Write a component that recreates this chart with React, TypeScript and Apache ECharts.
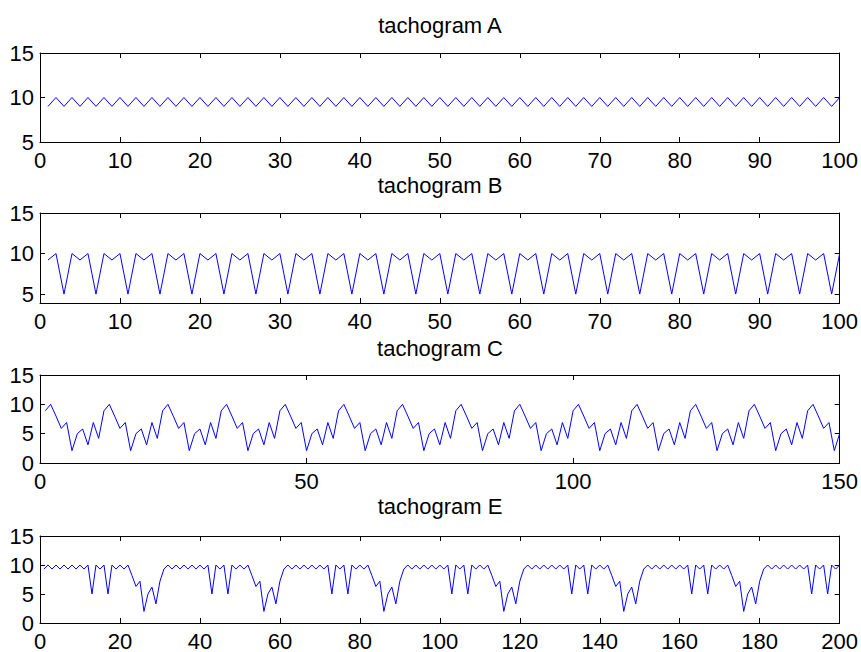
import React, { useEffect, useRef } from "react";
import * as echarts from "echarts";

const titles = ["tachogram A", "tachogram B", "tachogram C", "tachogram E"];
const xMaxes = [100, 100, 150, 200];
const xSteps = [10, 10, 50, 20];
const yMins = [5, 3.9, 0, 0];
const yMaxes = [15, 15, 15, 15];
const yTickValues = [
  [5, 10, 15],
  [5, 10, 15],
  [0, 5, 10, 15],
  [0, 5, 10, 15],
];

const tachoA = [
  9, 10, 9, 10, 9, 10, 9, 10, 9, 10,
  9, 10, 9, 10, 9, 10, 9, 10, 9, 10,
  9, 10, 9, 10, 9, 10, 9, 10, 9, 10,
  9, 10, 9, 10, 9, 10, 9, 10, 9, 10,
  9, 10, 9, 10, 9, 10, 9, 10, 9, 10,
  9, 10, 9, 10, 9, 10, 9, 10, 9, 10,
  9, 10, 9, 10, 9, 10, 9, 10, 9, 10,
  9, 10, 9, 10, 9, 10, 9, 10, 9, 10,
  9, 10, 9, 10, 9, 10, 9, 10, 9, 10,
  9, 10, 9, 10, 9, 10, 9, 10, 9, 10,
];

const tachoB = [
  9.2, 10, 5, 10, 9.2, 10, 5, 10, 9.2, 10, 5, 10, 9.2, 10, 5, 10, 9.2, 10, 5, 10,
  9.2, 10, 5, 10, 9.2, 10, 5, 10, 9.2, 10, 5, 10, 9.2, 10, 5, 10, 9.2, 10, 5, 10,
  9.2, 10, 5, 10, 9.2, 10, 5, 10, 9.2, 10, 5, 10, 9.2, 10, 5, 10, 9.2, 10, 5, 10,
  9.2, 10, 5, 10, 9.2, 10, 5, 10, 9.2, 10, 5, 10, 9.2, 10, 5, 10, 9.2, 10, 5, 10,
  9.2, 10, 5, 10, 9.2, 10, 5, 10, 9.2, 10, 5, 10, 9.2, 10, 5, 10, 9.2, 10, 5, 10,
];

const tachoC = [
  8.9, 10, 8, 5.9, 6.9, 2.1, 5, 5.8, 3.1, 6.9, 4.2,
  8.9, 10, 8, 5.9, 6.9, 2.1, 5, 5.8, 3.1, 6.9, 4.2,
  8.9, 10, 8, 5.9, 6.9, 2.1, 5, 5.8, 3.1, 6.9, 4.2,
  8.9, 10, 8, 5.9, 6.9, 2.1, 5, 5.8, 3.1, 6.9, 4.2,
  8.9, 10, 8, 5.9, 6.9, 2.1, 5, 5.8, 3.1, 6.9, 4.2,
  8.9, 10, 8, 5.9, 6.9, 2.1, 5, 5.8, 3.1, 6.9, 4.2,
  8.9, 10, 8, 5.9, 6.9, 2.1, 5, 5.8, 3.1, 6.9, 4.2,
  8.9, 10, 8, 5.9, 6.9, 2.1, 5, 5.8, 3.1, 6.9, 4.2,
  8.9, 10, 8, 5.9, 6.9, 2.1, 5, 5.8, 3.1, 6.9, 4.2,
  8.9, 10, 8, 5.9, 6.9, 2.1, 5, 5.8, 3.1, 6.9, 4.2,
  8.9, 10, 8, 5.9, 6.9, 2.1, 5, 5.8, 3.1, 6.9, 4.2,
  8.9, 10, 8, 5.9, 6.9, 2.1, 5, 5.8, 3.1, 6.9, 4.2,
  8.9, 10, 8, 5.9, 6.9, 2.1, 5, 5.8, 3.1, 6.9, 4.2,
  8.9, 10, 8, 5.9, 6.9, 2.1, 5,
];

const tachoE = [
  9.3, 10, 9.3, 10, 9.3, 10, 9.3, 10, 9.3, 10, 9.3, 10, 5, 10, 9.3, 10, 5, 10, 9.3, 10, 9.3, 10, 8.2, 6.3, 7.2, 2, 5, 6.2, 3.3, 7.2,
  9.3, 10, 9.3, 10, 9.3, 10, 9.3, 10, 9.3, 10, 9.3, 10, 5, 10, 9.3, 10, 5, 10, 9.3, 10, 9.3, 10, 8.2, 6.3, 7.2, 2, 5, 6.2, 3.3, 7.2,
  9.3, 10, 9.3, 10, 9.3, 10, 9.3, 10, 9.3, 10, 9.3, 10, 5, 10, 9.3, 10, 5, 10, 9.3, 10, 9.3, 10, 8.2, 6.3, 7.2, 2, 5, 6.2, 3.3, 7.2,
  9.3, 10, 9.3, 10, 9.3, 10, 9.3, 10, 9.3, 10, 9.3, 10, 5, 10, 9.3, 10, 5, 10, 9.3, 10, 9.3, 10, 8.2, 6.3, 7.2, 2, 5, 6.2, 3.3, 7.2,
  9.3, 10, 9.3, 10, 9.3, 10, 9.3, 10, 9.3, 10, 9.3, 10, 5, 10, 9.3, 10, 5, 10, 9.3, 10, 9.3, 10, 8.2, 6.3, 7.2, 2, 5, 6.2, 3.3, 7.2,
  9.3, 10, 9.3, 10, 9.3, 10, 9.3, 10, 9.3, 10, 9.3, 10, 5, 10, 9.3, 10, 5, 10, 9.3, 10, 9.3, 10, 8.2, 6.3, 7.2, 2, 5, 6.2, 3.3, 7.2,
  9.3, 10, 9.3, 10, 9.3, 10, 9.3, 10, 9.3, 10, 9.3, 10, 5, 10, 9.3, 10, 5, 10, 9.3, 10,
];

const seriesValues = [tachoA, tachoB, tachoC, tachoE];

const gridTops = [53, 213, 375, 536];
const gridHeights = [89, 90, 88, 90];
const titleMidY = [25.5, 185.5, 348, 506.5];

const FONT = "'Liberation Sans', Arial, sans-serif";
const FS = 22;

export default function App() {
  const ref = useRef<HTMLDivElement>(null);

  useEffect(() => {
    document.body.style.margin = "0";
    if (!ref.current) return;
    const chart = echarts.init(ref.current, null, { renderer: "svg" });

    const grid = gridTops.map((top, i) => ({
      left: 40,
      right: 21,
      top,
      height: gridHeights[i],
      containLabel: false,
    }));

    const xAxis: any[] = [];
    const yAxis: any[] = [];
    titles.forEach((_, i) => {
      const xBase = {
        gridIndex: i,
        type: "value",
        min: 0,
        max: xMaxes[i],
        interval: xSteps[i],
        axisLine: { onZero: false, lineStyle: { color: "#000", width: 1 } },
        axisTick: { inside: true, length: 5, lineStyle: { color: "#000" } },
        splitLine: { show: false },
      };
      xAxis.push({
        ...xBase,
        position: "bottom",
        axisLabel: { color: "#000", fontSize: FS, fontFamily: FONT, margin: 7 },
      });
      xAxis.push({
        ...xBase,
        position: "top",
        axisLabel: { show: false },
      });
      const yBase = {
        gridIndex: i,
        type: "value",
        min: yMins[i],
        max: yMaxes[i],
        axisLine: { onZero: false, lineStyle: { color: "#000", width: 1 } },
        axisTick: {
          inside: true,
          length: 5,
          lineStyle: { color: "#000" },
          customValues: yTickValues[i],
        },
        splitLine: { show: false },
      };
      yAxis.push({
        ...yBase,
        position: "left",
        axisLabel: {
          color: "#000",
          fontSize: FS,
          fontFamily: FONT,
          margin: 6,
          customValues: yTickValues[i],
        },
      });
      yAxis.push({
        ...yBase,
        position: "right",
        axisLabel: { show: false, customValues: yTickValues[i] },
      });
    });

    const series = seriesValues.map((vals, i) => ({
      type: "line",
      xAxisIndex: i * 2,
      yAxisIndex: i * 2,
      data: vals.map((v, k) => [k + 1, v]),
      symbol: "none",
      lineStyle: { color: "#0000ff", width: 1 },
      silent: true,
    }));

    const graphic = titles.map((t, i) => ({
      type: "text",
      x: 440,
      y: titleMidY[i],
      style: {
        text: t,
        fill: "#000",
        font: `${FS}px ${FONT}`,
        textAlign: "center",
        textVerticalAlign: "middle",
      },
    }));

    chart.setOption({
      animation: false,
      backgroundColor: "#fff",
      grid,
      xAxis,
      yAxis,
      series,
      graphic,
    });

    return () => chart.dispose();
  }, []);

  return <div ref={ref} style={{ width: 861, height: 652 }} />;
}
